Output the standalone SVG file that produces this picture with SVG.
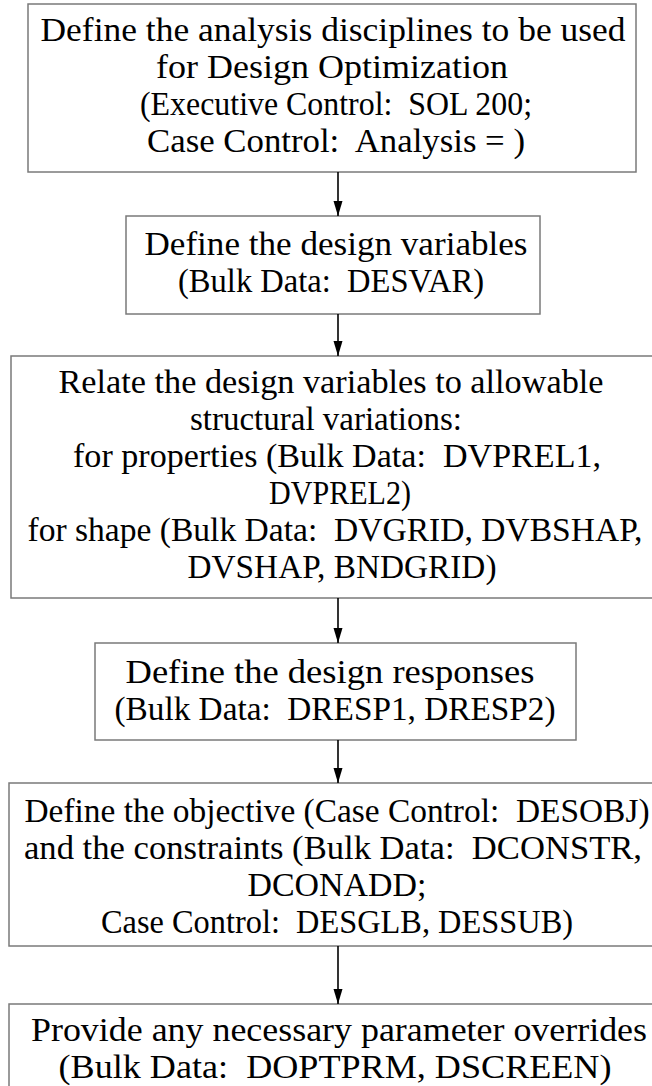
<svg xmlns="http://www.w3.org/2000/svg" width="652" height="1086" viewBox="0 0 652 1086">
  <style>
    .box { fill: #ffffff; stroke: #7a7a7a; stroke-width: 1.5; }
    .lbl { font-family: "Liberation Serif", "Times New Roman", serif; font-size: 33px; fill: #000000; text-anchor: middle; white-space: pre; }
    .flow { stroke: #000000; stroke-width: 1.6; fill: none; marker-end: url(#arrow); }
  </style>
  <defs>
    <marker id="arrow" markerUnits="userSpaceOnUse" markerWidth="15" markerHeight="10" viewBox="0 0 15 10" refX="15" refY="5" orient="auto">
      <path d="M0,0.5 L15,5 L0,9.5 Z" fill="#000000"/>
    </marker>
  </defs>
  <rect width="652" height="1086" fill="#ffffff"/>

  <!-- process steps -->
  <g id="step-disciplines">
    <rect class="box" x="28" y="4" width="608" height="168"/>
    <text class="lbl" x="333" y="41" textLength="585" lengthAdjust="spacingAndGlyphs">Define the analysis disciplines to be used</text>
    <text class="lbl" x="332" y="78" textLength="352" lengthAdjust="spacingAndGlyphs">for Design Optimization</text>
    <text class="lbl" x="336" y="115" textLength="392" lengthAdjust="spacingAndGlyphs">(Executive Control:  SOL 200;</text>
    <text class="lbl" x="336" y="152" textLength="378" lengthAdjust="spacingAndGlyphs">Case Control:  Analysis = )</text>
  </g>

  <g id="step-desvar">
    <rect class="box" x="126" y="216" width="414" height="98"/>
    <text class="lbl" x="336" y="255" textLength="383" lengthAdjust="spacingAndGlyphs">Define the design variables</text>
    <text class="lbl" x="331" y="292" textLength="306" lengthAdjust="spacingAndGlyphs">(Bulk Data:  DESVAR)</text>
  </g>

  <g id="step-relations">
    <rect class="box" x="11" y="356" width="650" height="242"/>
    <text class="lbl" x="331" y="393" textLength="545" lengthAdjust="spacingAndGlyphs">Relate the design variables to allowable</text>
    <text class="lbl" x="326" y="430" textLength="272" lengthAdjust="spacingAndGlyphs">structural variations:</text>
    <text class="lbl" x="337" y="467" textLength="528" lengthAdjust="spacingAndGlyphs">for properties (Bulk Data:  DVPREL1,</text>
    <text class="lbl" x="340" y="504" textLength="142" lengthAdjust="spacingAndGlyphs">DVPREL2)</text>
    <text class="lbl" x="335" y="541" textLength="615" lengthAdjust="spacingAndGlyphs">for shape (Bulk Data:  DVGRID, DVBSHAP,</text>
    <text class="lbl" x="342" y="578" textLength="309" lengthAdjust="spacingAndGlyphs">DVSHAP, BNDGRID)</text>
  </g>

  <g id="step-responses">
    <rect class="box" x="95" y="643" width="481" height="97"/>
    <text class="lbl" x="330" y="683" textLength="409" lengthAdjust="spacingAndGlyphs">Define the design responses</text>
    <text class="lbl" x="335" y="720" textLength="441" lengthAdjust="spacingAndGlyphs">(Bulk Data:  DRESP1, DRESP2)</text>
  </g>

  <g id="step-objective">
    <rect class="box" x="9" y="783" width="652" height="163"/>
    <text class="lbl" x="337" y="822" textLength="625" lengthAdjust="spacingAndGlyphs">Define the objective (Case Control:  DESOBJ)</text>
    <text class="lbl" x="333" y="859" textLength="618" lengthAdjust="spacingAndGlyphs">and the constraints (Bulk Data:  DCONSTR,</text>
    <text class="lbl" x="337" y="896" textLength="179" lengthAdjust="spacingAndGlyphs">DCONADD;</text>
    <text class="lbl" x="337" y="933" textLength="472" lengthAdjust="spacingAndGlyphs">Case Control:  DESGLB, DESSUB)</text>
  </g>

  <g id="step-overrides">
    <rect class="box" x="9" y="1004" width="652" height="100"/>
    <text class="lbl" x="339" y="1041" textLength="616" lengthAdjust="spacingAndGlyphs">Provide any necessary parameter overrides</text>
    <text class="lbl" x="335" y="1078" textLength="553" lengthAdjust="spacingAndGlyphs">(Bulk Data:  DOPTPRM, DSCREEN)</text>
  </g>

  <!-- connectors -->
  <g id="connectors">
    <line class="flow" x1="338" y1="172" x2="338" y2="216"/>
    <line class="flow" x1="338" y1="314" x2="338" y2="356"/>
    <line class="flow" x1="338" y1="598" x2="338" y2="643"/>
    <line class="flow" x1="338" y1="740" x2="338" y2="783"/>
    <line class="flow" x1="338" y1="946" x2="338" y2="1004"/>
  </g>
</svg>
